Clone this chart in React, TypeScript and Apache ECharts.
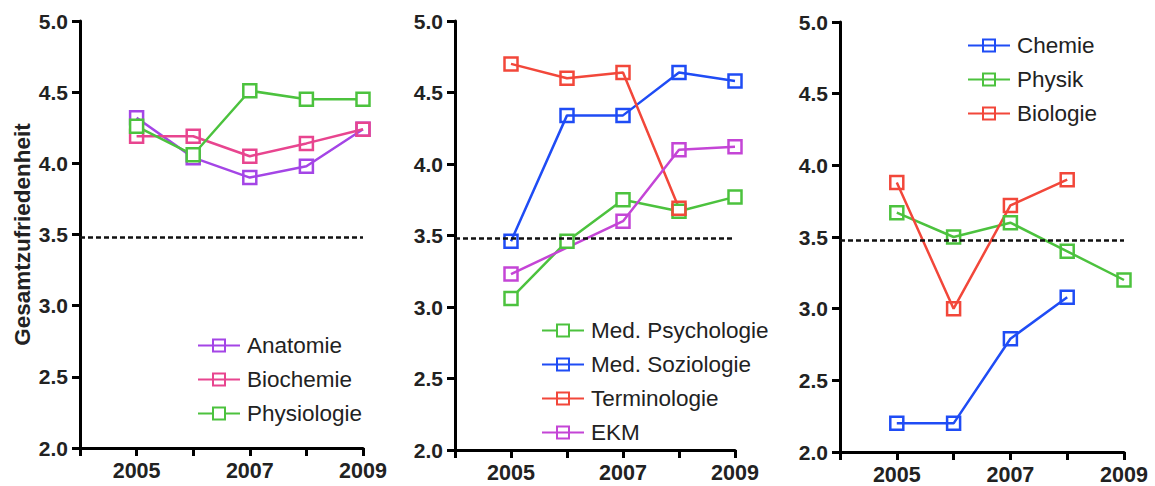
import React, { useEffect, useRef } from "react";
import * as echarts from "echarts";

const years = [2005, 2006, 2007, 2008, 2009];
const yearLabels = [2005, 2007, 2009];
const threshold = 3.48;
const yAxisTitle = "Gesamtzufriedenheit";

// Panel 1
const anatomie = [4.32, 4.04, 3.9, 3.98, 4.24];
const biochemie = [4.19, 4.19, 4.05, 4.14, 4.24];
const physiologie = [4.26, 4.06, 4.51, 4.45, 4.45];

// Panel 2
const medPsychologie = [3.06, 3.46, 3.75, 3.67, 3.77];
const medSoziologie = [3.46, 4.34, 4.34, 4.64, 4.58];
const terminologie = [4.7, 4.6, 4.64, 3.69, null];
const ekm = [3.23, null, 3.6, 4.1, 4.12];

// Panel 3
const chemie = [2.2, 2.2, 2.79, 3.08, null];
const physik = [3.67, 3.5, 3.6, 3.4, 3.2];
const biologie = [3.88, 3.0, 3.72, 3.9, null];

const PURPLE = "#a445e6";
const PINK = "#e8458f";
const GREEN = "#4cc23e";
const BLUE = "#1f4cf5";
const RED = "#f2473a";
const VIOLET = "#c445d6";

type S = { name: string; values: (number | null)[]; color: string; fill: string; panel: number };

const seriesDefs: S[] = [
  { name: "Anatomie", values: anatomie, color: PURPLE, fill: "rgba(255,255,255,0)", panel: 0 },
  { name: "Biochemie", values: biochemie, color: PINK, fill: "rgba(255,255,255,0)", panel: 0 },
  { name: "Physiologie", values: physiologie, color: GREEN, fill: "#ffffff", panel: 0 },
  { name: "Med. Psychologie", values: medPsychologie, color: GREEN, fill: "#ffffff", panel: 1 },
  { name: "Med. Soziologie", values: medSoziologie, color: BLUE, fill: "rgba(255,255,255,0)", panel: 1 },
  { name: "Terminologie", values: terminologie, color: RED, fill: "rgba(255,255,255,0)", panel: 1 },
  { name: "EKM", values: ekm, color: VIOLET, fill: "rgba(255,255,255,0)", panel: 1 },
  { name: "Chemie", values: chemie, color: BLUE, fill: "rgba(255,255,255,0)", panel: 2 },
  { name: "Physik", values: physik, color: GREEN, fill: "rgba(255,255,255,0)", panel: 2 },
  { name: "Biologie", values: biologie, color: RED, fill: "rgba(255,255,255,0)", panel: 2 },
];

const grids = [
  { left: 80, top: 21, width: 283, height: 427 },
  { left: 455, top: 21, width: 280, height: 429 },
  { left: 840, top: 22, width: 284, height: 431 },
];

const legends = [
  { left: 197, top: 334 },
  { left: 541, top: 319 },
  { left: 967, top: 34 },
];

const FONT = "'Liberation Sans', Arial, Helvetica, sans-serif";

export default function App() {
  const ref = useRef<HTMLDivElement>(null);
  useEffect(() => {
    if (!ref.current) return;
    const chart = echarts.init(ref.current, undefined, { renderer: "svg" });
    const axisLine = { show: true, lineStyle: { color: "#000", width: 3 } };
    const option: any = {
      animation: false,
      backgroundColor: "#fff",
      grid: grids.map((g) => ({ ...g, containLabel: false })),
      xAxis: grids.map((_, i) => ({
        type: "value",
        gridIndex: i,
        min: 2004,
        max: 2009,
        interval: 1,
        axisLine,
        axisTick: { show: true, inside: false, length: 8, lineStyle: { color: "#000", width: 3 } },
        splitLine: { show: false },
        axisLabel: {
          margin: 12,
          color: "#222",
          fontFamily: FONT,
          fontWeight: "bold",
          fontSize: 21.5,
          formatter: (v: number) => (yearLabels.includes(v) ? String(v) : ""),
        },
      })),
      yAxis: grids.map((_, i) => ({
        type: "value",
        gridIndex: i,
        min: 2,
        max: 5,
        interval: 0.5,
        axisLine,
        axisTick: { show: true, inside: false, length: 8, lineStyle: { color: "#000", width: 3 } },
        splitLine: { show: false },
        axisLabel: {
          margin: 12,
          color: "#222",
          fontFamily: FONT,
          fontWeight: "bold",
          fontSize: 21,
          formatter: (v: number) => v.toFixed(1),
        },
        name: i === 0 ? yAxisTitle : "",
        nameLocation: "middle",
        nameGap: 46,
        nameTextStyle: { color: "#222", fontFamily: FONT, fontWeight: "bold", fontSize: 22.5 },
      })),
      legend: legends.map((l, i) => ({
        ...l,
        orient: "vertical",
        padding: 0,
        itemWidth: 42,
        itemHeight: 15,
        itemGap: 11,
        data: seriesDefs.filter((s) => s.panel === i).map((s) => s.name),
        textStyle: { color: "#222", fontFamily: FONT, fontSize: 22.5, lineHeight: 23, padding: [0, 0, 0, 2] },
      })),
      series: [
        ...seriesDefs.map((s) => ({
          type: "line",
          name: s.name,
          xAxisIndex: s.panel,
          yAxisIndex: s.panel,
          data: years.map((y, k) => [y, s.values[k]]),
          connectNulls: true,
          symbol: "rect",
          symbolSize: 13,
          color: s.color,
          lineStyle: { color: s.color, width: 2.5 },
          itemStyle: { color: s.fill, borderColor: s.color, borderWidth: 2.5 },
          z: 3,
        })),
        ...grids.map((_, i) => ({
          type: "line",
          name: "threshold" + i,
          xAxisIndex: i,
          yAxisIndex: i,
          data: [],
          markLine: {
            silent: true,
            symbol: "none",
            label: { show: false },
            lineStyle: { color: "#111", width: 2.5, type: [5, 3] },
            data: [{ yAxis: threshold }],
          },
          z: 2,
        })),
      ],
    };
    chart.setOption(option);
    return () => chart.dispose();
  }, []);
  return (
    <div
      ref={ref}
      style={{ position: "absolute", left: 0, top: 0, width: 1155, height: 486 }}
    />
  );
}
